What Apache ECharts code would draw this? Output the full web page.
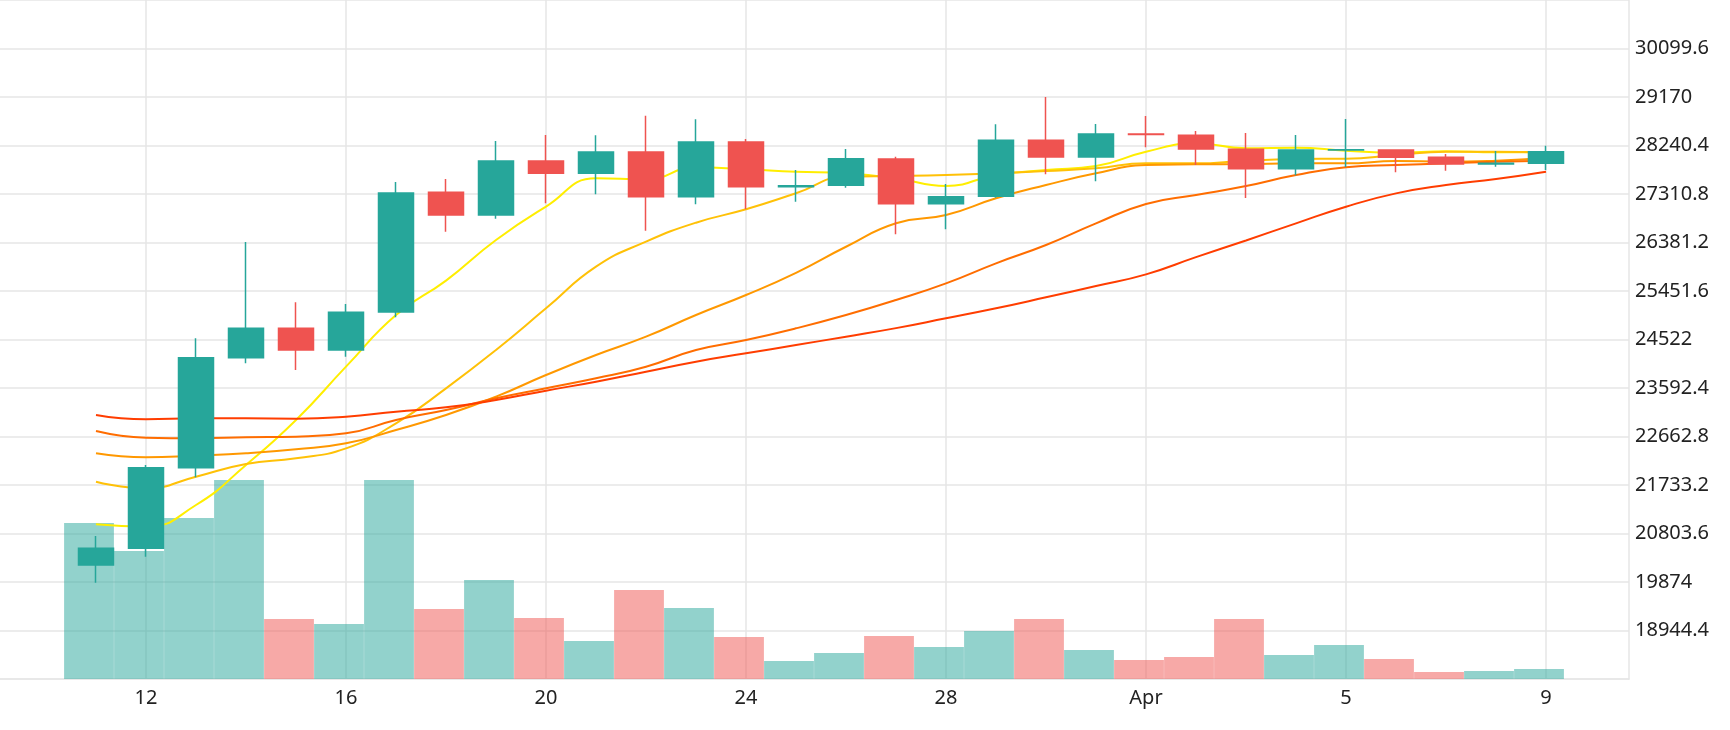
<!DOCTYPE html>
<html><head><meta charset="utf-8">
<script src="https://cdn.jsdelivr.net/npm/echarts@6/dist/echarts.min.js"></script>
<style>html,body{margin:0;padding:0;background:#fff}#c{width:1730px;height:730px}</style>
</head><body><div id="c"></div>
<script>
const dates = ['2023-03-11','2023-03-12','2023-03-13','2023-03-14','2023-03-15','2023-03-16','2023-03-17','2023-03-18','2023-03-19','2023-03-20','2023-03-21','2023-03-22','2023-03-23','2023-03-24','2023-03-25','2023-03-26','2023-03-27','2023-03-28','2023-03-29','2023-03-30','2023-03-31','2023-04-01','2023-04-02','2023-04-03','2023-04-04','2023-04-05','2023-04-06','2023-04-07','2023-04-08','2023-04-09'];
const openV  = [20200,20520,22065,24173,24737,24321,25050,27343,26908,27943,27707,28116,27260,28307,27451,27477,27982,27125,27266,28339,28020,28461,28435,28167,27796,28154,28154,28014,27886,27900];
const closeV = [20520,22065,24173,24737,24321,25043,27332,26908,27943,27707,28116,27260,28307,27451,27470,27988,27126,27259,28339,28020,28461,28450,28173,27796,28154,28160,28014,27886,27900,28122];
const lowV   = [19860,20359,21881,24066,23937,24193,24947,26589,26838,27132,27304,26608,27113,27017,27164,27432,26538,26633,27240,27688,27553,28205,27866,27234,27668,27828,27727,27757,27834,27770];
const highV  = [20756,22116,24545,26391,25235,25202,27543,27598,28327,28442,28435,28812,28742,28365,27771,28173,28026,27502,28646,29170,28652,28806,28518,28480,28441,28748,28160,28077,28135,28237];
const volume = [15600,12800,16100,19900,6000,5500,19900,7000,9900,6100,3800,8900,7100,4200,1800,2600,4300,3200,4800,6000,2900,1900,2200,6000,2400,3400,2000,700,800,1000];
const ma5  = [20980,20935,21350,22117,22979,24001,24992,25650,26429,27068,27611,27592,27822,27784,27739,27707,27611,27464,27675,27771,27847,28122,28282,28186,28199,28140,28100,28130,28110,28110];
const ma10 = [21797,21669,21893,22136,22245,22436,22915,23586,24321,25119,25918,26397,26761,27017,27324,27643,27656,27675,27707,27751,27803,27898,27898,27950,27981,27988,28058,28122,28120,28110];
const ma20 = [22340,22264,22296,22340,22417,22532,22787,23075,23426,23841,24225,24576,24991,25375,25800,26300,26750,26908,27228,27483,27707,27866,27879,27886,27898,27898,27943,27930,27950,28000];
const ma30 = [22768,22640,22628,22647,22660,22724,22979,23171,23394,23586,23778,24001,24320,24512,24736,24991,25279,25598,25982,26333,26748,27119,27292,27464,27675,27822,27866,27898,27930,27950];
const ma60 = [23075,22992,23011,23011,23005,23043,23139,23222,23362,23541,23714,23905,24097,24257,24416,24576,24740,24928,25119,25330,25547,25771,26100,26420,26748,27068,27323,27483,27598,27738];
const tickDates = ['2023-03-12','2023-03-16','2023-03-20','2023-03-24','2023-03-28','2023-04-01','2023-04-05','2023-04-09'];
const monthNames = ['Jan','Feb','Mar','Apr','May','Jun','Jul','Aug','Sep','Oct','Nov','Dec'];

const DAY = 86400000, BASE = Date.parse('2023-03-08');
const toX = d => (Date.parse(d) - BASE) / DAY;
const xs = dates.map(toX);
const tickXs = tickDates.map(toX);
const UP = '#26a69a', DOWN = '#ef5350';
const candleData = xs.map((x,i) => [x, openV[i], closeV[i], lowV[i], highV[i]]);
const volData = xs.map((x,i) => ({
  value: [x - 0.14, volume[i]],
  itemStyle: { color: closeV[i] >= openV[i] ? 'rgba(38,166,154,0.5)' : 'rgba(239,83,80,0.5)' }
}));
const line = (arr, color) => ({
  type: 'line', data: xs.map((x,i) => [x, arr[i]]), smooth: true, showSymbol: false,
  lineStyle: { color, width: 2 }, z: 3, silent: true
});
const FONT = 'Noto Sans';
const chart = echarts.init(document.getElementById('c'));
chart.setOption({
  animation: false,
  grid: { left: 0, right: 101, top: 0, bottom: 51 },
  xAxis: {
    type: 'value', min: 1.08, max: 33.66,
    axisLine: { show: true, lineStyle: { color: '#e6e6e6', width: 1.5 } },
    axisTick: { show: false, customValues: tickXs },
    splitLine: { show: true, lineStyle: { color: '#e6e6e6', width: 1.5 } },
    axisLabel: {
      customValues: tickXs, margin: 9,
      color: '#222', fontSize: 20, fontFamily: FONT,
      formatter: v => { const d = new Date(BASE + Math.round(v) * DAY); return d.getUTCDate() === 1 ? monthNames[d.getUTCMonth()] : String(d.getUTCDate()); }
    }
  },
  yAxis: [{
    type: 'value', position: 'right', min: 18014.8, max: 31029.2, interval: 929.6,
    axisLine: { show: true, lineStyle: { color: '#e6e6e6', width: 1.5 } },
    axisTick: { show: false },
    splitLine: { show: true, lineStyle: { color: '#e6e6e6', width: 1.5 } },
    axisLabel: { showMinLabel: false, showMaxLabel: false, margin: 6, color: '#222', fontSize: 20, fontFamily: FONT,
      formatter: v => String(+(+v).toFixed(1)) }
  }, {
    type: 'value', min: 0, max: 67900, show: false, splitLine: { show: false }
  }],
  series: [
    { type: 'bar', yAxisIndex: 1, data: volData, barWidth: 49.8, z: 1, silent: true },
    line(ma5, '#ffee00'), line(ma10, '#ffc107'), line(ma20, '#ff9800'), line(ma30, '#ff6d00'), line(ma60, '#ff3d00'),
    { type: 'candlestick', data: candleData, encode: { x: 0, y: [1,2,3,4] }, barWidth: 36, z: 5,
      itemStyle: { color: UP, color0: DOWN, borderColor: UP, borderColor0: DOWN, borderWidth: 1.5 } }
  ]
});
</script></body></html>
